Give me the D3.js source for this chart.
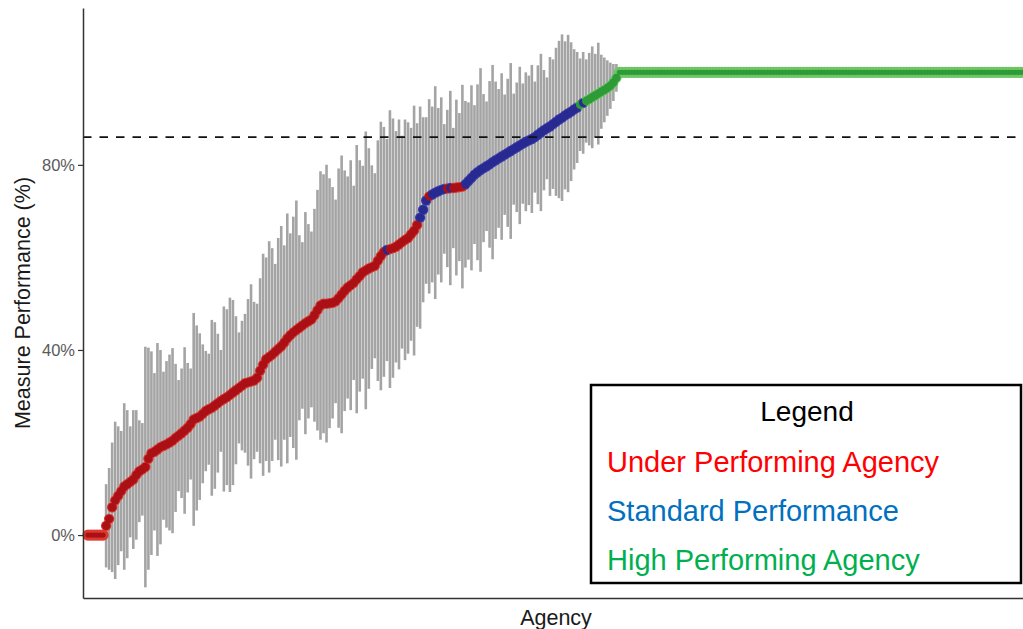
<!DOCTYPE html>
<html>
<head>
<meta charset="utf-8">
<script src="https://cdn.jsdelivr.net/npm/d3@7"></script>
<style>
body { margin: 0; background: #fff; }
svg { display: block; font-family: "Liberation Sans", Arial, sans-serif; }
</style>
</head>
<body>
<svg id="chart" width="1023" height="629"></svg>
<script>
// agencies sitting at exactly 0% (left end) and 100% (right end)
var zeroAgencies = 6;
var perfectAgencies = 135;

// the agencies in between, sorted by measure performance (%)
var rates = [
  2, 3.5, 6, 7.5, 8.5, 9.5, 10.5, 11, 11.5, 12,
  13, 13.8, 14.2, 14.7, 16.5, 17.7, 18, 18.5, 19, 19.3,
  19.6, 20, 20.4, 21, 21.5, 22, 22.6, 23.2, 24, 25,
  25.3, 25.6, 26.2, 26.8, 27.2, 27.5, 28, 28.5, 29, 29.4,
  29.8, 30.3, 30.8, 31.3, 31.8, 32.3, 32.8, 33, 33.2, 33.4,
  34, 35.5, 36.8, 38, 38.5, 39, 39.6, 40.2, 40.8, 41.6,
  42.5, 43.2, 43.8, 44.3, 44.8, 45.3, 45.8, 46.2, 46.6, 47.5,
  48.6, 49.6, 50, 50, 50.1, 50.2, 50.5, 51.2, 52, 52.8,
  53.5, 54, 54.5, 55.3, 56, 56.8, 57.2, 57.6, 57.9, 58.2,
  59.3, 60.3, 61.2, 61.6, 61.8, 62, 62.3, 62.8, 63.3, 63.8,
  64.2, 65, 65.8, 67, 68.6, 70.3, 72.3, 73.2, 73.6, 74,
  74.3, 74.6, 74.8, 74.9, 75, 75, 75.1, 75.2, 75.3, 75.8,
  76.5, 77.2, 77.9, 78.4, 78.9, 79.3, 79.7, 80.1, 80.6, 81,
  81.4, 81.8, 82.2, 82.6, 83, 83.4, 83.8, 84.2, 84.6, 85,
  85.3, 85.6, 86, 86.5, 87, 87.5, 87.9, 88.3, 88.8, 89.3,
  89.8, 90.2, 90.7, 91.1, 91.5, 92, 92.4, 93, 93.4, 93.8,
  94.2, 94.6, 95, 95.4, 95.8, 96.2, 96.6, 97.1, 97.8, 98.8
];
// half width of each error bar (%)
var margins = [
  9, 11, 14, 17, 15, 13, 18, 16, 12, 15,
  14, 11, 10, 26, 24, 22, 17, 23, 21, 16,
  18, 19, 20, 16, 12, 14, 18, 14, 12, 23,
  20, 18, 15, 13, 12, 19, 18, 15, 11, 20,
  19, 21, 20, 16, 12, 14, 15, 18, 21, 17,
  16, 20, 24, 22, 25, 23, 19, 24, 26, 21,
  27, 22, 25, 28, 20, 18, 24, 21, 19, 23,
  26, 29, 28, 30, 27, 25, 22, 28, 30, 26,
  24, 27, 21, 29, 25, 23, 30, 26, 22, 20,
  26, 29, 27, 24, 30, 28, 25, 27, 23, 26,
  25, 23, 27, 22, 24, 20, 18, 21, 19, 23,
  18, 20, 14, 17, 21, 13, 19, 16, 22, 18,
  17, 20, 15, 19, 22, 16, 14, 18, 21, 17,
  15, 18, 13, 16, 19, 12, 14, 17, 13, 15,
  14, 16, 12, 15, 17, 13, 11, 15, 14, 16,
  17, 18, 16, 17, 15, 13, 12, 10, 11, 9,
  10, 11, 9, 11, 8, 7, 6, 5, 4, 3
];
// status of those agencies, as runs in sorted order
var statusRuns = [
  ["under", 93], ["standard", 1], ["under", 10], ["standard", 3],
  ["under", 1], ["standard", 5], ["under", 1], ["standard", 1],
  ["under", 4], ["standard", 38], ["high", 1], ["standard", 1], ["high", 11]
];
var benchmark = 86;
var yTicks = [0, 40, 80];
var legendLabels = ["Under Performing Agency", "Standard Performance", "High Performing Agency"];

// halo (outer) and core colours of the points
var haloColor = { under: "#dc3a2e", standard: "#3d3fae", high: "#6cc763" };
var coreColor = { under: "#aa1016", standard: "#282a92", high: "#2e9a38" };
var legendColor = ["#ff0000", "#0070c0", "#00b050"];

// put every agency in one list
var statuses = [];
statusRuns.forEach(function(r) {
  for (var j = 0; j < r[1]; j++) statuses.push(r[0]);
});
var agencies = [];
for (var i = 0; i < zeroAgencies; i++) agencies.push({ rate: 0, margin: 0, status: "under" });
rates.forEach(function(r, k) {
  agencies.push({ rate: r, margin: margins[k], status: statuses[k] });
});
for (i = 0; i < perfectAgencies; i++) agencies.push({ rate: 100, margin: 0, status: "high" });
agencies.forEach(function(d, i) { d.index = i; });

var svg = d3.select("#chart");

var x = d3.scaleLinear().domain([0, agencies.length - 1]).range([88, 1024]);
var y = d3.scaleLinear().domain([-13.6, 113.9]).range([598, 8]);
var xAxisScale = d3.scaleLinear().range([83, 1023]);

// error bars
svg.append("g")
  .selectAll("line")
  .data(agencies.filter(function(d) { return d.margin > 0; }))
  .join("line")
  .attr("x1", function(d) { return x(d.index); })
  .attr("x2", function(d) { return x(d.index); })
  .attr("y1", function(d) { return y(d.rate - d.margin); })
  .attr("y2", function(d) { return y(d.rate + d.margin); })
  .attr("stroke", "#a4a4a4")
  .attr("stroke-width", 2.6);

// points: a lighter halo layer, then the dark core
svg.append("g")
  .selectAll("circle")
  .data(agencies)
  .join("circle")
  .attr("cx", function(d) { return x(d.index); })
  .attr("cy", function(d) { return y(d.rate); })
  .attr("r", function(d) { return d.margin > 0 ? 5.2 : 5.6; })
  .attr("fill", function(d) { return haloColor[d.status]; });
svg.append("g")
  .selectAll("circle")
  .data(agencies)
  .join("circle")
  .attr("cx", function(d) { return x(d.index); })
  .attr("cy", function(d) { return y(d.rate); })
  .attr("r", function(d) { return d.margin > 0 ? 4.2 : 2.6; })
  .attr("fill", function(d) { return coreColor[d.status]; });

// benchmark
svg.append("line")
  .attr("x1", 83).attr("x2", 1023)
  .attr("y1", y(benchmark)).attr("y2", y(benchmark))
  .attr("stroke", "#111")
  .attr("stroke-width", 1.8)
  .attr("stroke-dasharray", "8.5,8");

// axes
var yAxis = svg.append("g")
  .attr("transform", "translate(83,0)")
  .call(d3.axisLeft(y).tickValues(yTicks).tickSize(5).tickSizeOuter(0).tickPadding(3)
    .tickFormat(function(d) { return d + "%"; }));
yAxis.select(".domain").attr("stroke", "#333").attr("stroke-width", 1.5);
yAxis.selectAll(".tick line").attr("stroke", "#333").attr("stroke-width", 1.2);
yAxis.selectAll(".tick text")
  .attr("fill", "#5a5a5a")
  .style("font-size", "16.5px")
  .style("font-family", "'Liberation Sans', Arial, sans-serif");

var xAxis = svg.append("g")
  .attr("transform", "translate(0,598)")
  .call(d3.axisBottom(xAxisScale).tickValues([]).tickSizeOuter(0));
xAxis.select(".domain").attr("stroke", "#333").attr("stroke-width", 1.5);

svg.append("text")
  .attr("transform", "translate(30,303) rotate(-90)")
  .attr("text-anchor", "middle")
  .attr("fill", "#1a1a1a")
  .style("font-size", "21.5px")
  .text("Measure Performance (%)");

svg.append("text")
  .attr("x", 556).attr("y", 625)
  .attr("text-anchor", "middle")
  .attr("fill", "#1a1a1a")
  .style("font-size", "21.5px")
  .text("Agency");

// legend box
var legend = svg.append("g");
legend.append("rect")
  .attr("x", 591).attr("y", 385)
  .attr("width", 430).attr("height", 198)
  .attr("fill", "#fff")
  .attr("stroke", "#000")
  .attr("stroke-width", 2.5);
legend.append("text")
  .attr("x", 807).attr("y", 421)
  .attr("text-anchor", "middle")
  .attr("fill", "#000")
  .style("font-size", "28px")
  .text("Legend");
legend.selectAll("text.item")
  .data(legendLabels)
  .join("text")
  .attr("class", "item")
  .attr("x", 607)
  .attr("y", function(d, i) { return 472 + i * 49; })
  .attr("fill", function(d, i) { return legendColor[i]; })
  .style("font-size", "29px")
  .text(function(d) { return d; });
</script>
</body>
</html>
